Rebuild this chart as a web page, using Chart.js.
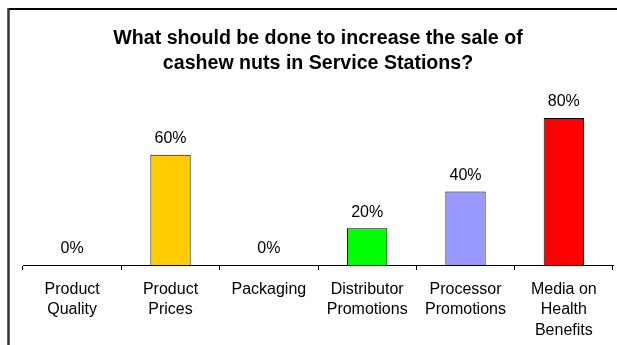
<!DOCTYPE html>
<html>
<head>
<meta charset="utf-8">
<script src="https://cdn.jsdelivr.net/npm/chart.js@4/dist/chart.umd.min.js"></script>
<style>
html,body{margin:0;padding:0;background:#fff;}
#wrap{width:617px;height:345px;position:relative;}
</style>
</head>
<body>
<div id="wrap"><canvas id="c" width="617" height="345"></canvas></div>
<script>
const categories = [
  ["Product", "Quality"],
  ["Product", "Prices"],
  ["Packaging"],
  ["Distributor", "Promotions"],
  ["Processor", "Promotions"],
  ["Media on", "Health", "Benefits"]
];
const values = [0, 60, 0, 20, 40, 80];
const barColors = ["#FFCC00", "#FFCC00", "#FFCC00", "#00FF00", "#9999FF", "#FF0000"];
const titleLines = ["What should be done to increase the sale of", "cashew nuts in Service Stations?"];
const FONT = "Arial, 'Liberation Sans', sans-serif";

const framePlugin = {
  id: 'frame',
  beforeDraw(chart) {
    const ctx = chart.ctx;
    ctx.save();
    ctx.fillStyle = '#fff';
    ctx.fillRect(0, 0, chart.width, chart.height);
    ctx.strokeStyle = '#000';
    ctx.lineWidth = 2;
    ctx.beginPath();
    ctx.moveTo(8, 9);
    ctx.lineTo(617, 9);
    ctx.stroke();
    ctx.strokeStyle = '#333';
    ctx.lineWidth = 2.5;
    ctx.beginPath();
    ctx.moveTo(8.5, 8);
    ctx.lineTo(8.5, 345);
    ctx.stroke();
    ctx.restore();
  }
};

const labelPlugin = {
  id: 'vlabels',
  afterDatasetsDraw(chart) {
    const ctx = chart.ctx;
    const meta = chart.getDatasetMeta(0);
    ctx.save();
    ctx.font = '16px ' + FONT;
    ctx.fillStyle = '#000';
    ctx.textAlign = 'center';
    ctx.textBaseline = 'middle';
    meta.data.forEach((bar, i) => {
      ctx.fillText(values[i] + '%', bar.x, bar.y - 16);
    });
    ctx.restore();
  }
};

new Chart(document.getElementById('c'), {
  type: 'bar',
  data: {
    labels: categories,
    datasets: [{
      data: values,
      backgroundColor: barColors,
      borderColor: '#000',
      borderWidth: 1,
      barPercentage: 0.41,
      categoryPercentage: 1
    }]
  },
  options: {
    responsive: false,
    animation: false,
    devicePixelRatio: 1,
    layout: { padding: { left: 23, right: 4, top: 0, bottom: 0 } },
    plugins: {
      legend: { display: false },
      tooltip: { enabled: false },
      title: {
        display: true,
        text: titleLines,
        color: '#000',
        font: { family: FONT, size: 19.6, weight: 'bold', lineHeight: 1.23 },
        padding: { top: 27, bottom: 6 }
      }
    },
    scales: {
      x: {
        grid: { display: true, drawOnChartArea: false, tickLength: 5, color: '#000', offset: true },
        border: { display: true, color: '#000', width: 1 },
        ticks: {
          color: '#000',
          font: { family: FONT, size: 16, lineHeight: 1.28 },
          padding: 9,
          maxRotation: 0,
          autoSkip: false
        },
        afterFit(scale) { scale.height = 80; }
      },
      y: {
        display: false,
        min: 0,
        max: 100
      }
    }
  },
  plugins: [framePlugin, labelPlugin]
});
</script>
</body>
</html>
